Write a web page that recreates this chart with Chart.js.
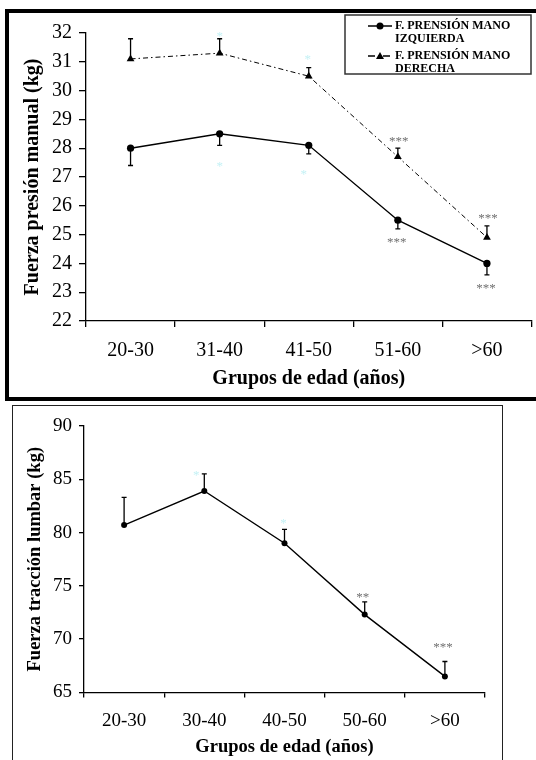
<!DOCTYPE html>
<html>
<head>
<meta charset="utf-8">
<script src="https://cdn.jsdelivr.net/npm/chart.js@4.4.1/dist/chart.umd.min.js"></script>
<style>
    html, body { margin: 0; padding: 0; background: #fff; width: 536px; height: 760px; overflow: hidden; position: relative; }
    #frameTop { position: absolute; left: 5px; top: 9px; width: 600px; height: 392px; box-sizing: border-box; border: 4px solid #000; }
    #frameBottom { position: absolute; left: 12px; top: 405px; width: 491px; height: 400px; box-sizing: border-box; border: 1.5px solid #222; }
    canvas { position: absolute; left: 0; }
    #gripChart { top: 0; }
    #lumbarChart { top: 400px; }
</style>
</head>
<body>
<div id="frameTop"></div>
<div id="frameBottom"></div>
<canvas id="gripChart" width="536" height="400"></canvas>
<canvas id="lumbarChart" width="536" height="360"></canvas>
<script>
const SERIF = '"Liberation Serif", "Times New Roman", serif';

// fuerza de prensión manual
const gripGroups = ['20-30', '31-40', '41-50', '51-60', '>60'];
const gripLeft = [28.0, 28.5, 28.1, 25.5, 24.0];
const gripLeftErr = [0.6, 0.4, 0.3, 0.3, 0.4];
const gripLeftSig = ['', '', '', '***', '***'];
const gripLeftFaint = ['', '*', '*', '', ''];
const gripRight = [31.1, 31.3, 30.5, 27.7, 24.9];
const gripRightErr = [0.7, 0.5, 0.3, 0.3, 0.4];
const gripRightSig = ['', '', '', '***', '***'];
const gripRightFaint = ['', '*', '*', '', ''];

// fuerza de tracción lumbar
const lumbarGroups = ['20-30', '30-40', '40-50', '50-60', '>60'];
const lumbarValues = [80.7, 83.9, 79.0, 72.3, 66.5];
const lumbarErr = [2.6, 1.6, 1.3, 1.2, 1.4];
const lumbarSig = ['', '', '', '**', '***'];
const lumbarFaint = ['', '*', '*', '', ''];


const pick = (v, i) => Array.isArray(v) ? v[i] : (v || 0);

// one-sided error bars + significance asterisks
const errorMarks = {
    id: 'errorMarks',
    afterDatasetsDraw(chart, args, opts) {
        const ctx = chart.ctx;
        const yScale = chart.scales.y;
        chart.data.datasets.forEach((ds, di) => {
            const meta = chart.getDatasetMeta(di);
            meta.data.forEach((pt, i) => {
                const end = yScale.getPixelForValue(ds.data[i] + ds.errDir * ds.err[i]);
                ctx.save();
                ctx.strokeStyle = '#000';
                ctx.lineWidth = 1.3;
                ctx.beginPath();
                ctx.moveTo(pt.x, pt.y);
                ctx.lineTo(pt.x, end);
                ctx.moveTo(pt.x - opts.cap, end);
                ctx.lineTo(pt.x + opts.cap, end);
                ctx.stroke();

                ctx.font = '13px ' + SERIF;
                ctx.textAlign = 'center';
                ctx.textBaseline = 'alphabetic';
                if (ds.sig[i]) {
                    ctx.fillStyle = '#707070';
                    const cy = end - ds.errDir * pick(ds.sigGap, i);
                    ctx.fillText(ds.sig[i], pt.x + pick(ds.sigShift, i), cy + 6.5);
                }
                if (ds.faint[i]) {
                    ctx.fillStyle = '#c4f1f5';
                    const cy = end - ds.errDir * pick(ds.faintGap, i);
                    ctx.fillText(ds.faint[i], pt.x + pick(ds.faintShift, i), cy + 6.5);
                }
                ctx.restore();
            });
        });
    }
};

// boxed legend, top right
const boxLegend = {
    id: 'boxLegend',
    afterDraw(chart, args, o) {
        if (!o.show) return;
        const ctx = chart.ctx;
        ctx.save();
        ctx.strokeStyle = '#333';
        ctx.lineWidth = 1.5;
        ctx.strokeRect(o.x, o.y, o.w, o.h);
        chart.data.datasets.forEach((ds, di) => {
            const rowY = o.firstRow + di * o.rowStep;
            ctx.strokeStyle = '#000';
            ctx.fillStyle = '#000';
            ctx.lineWidth = 1.5;
            ctx.setLineDash(ds.borderDash ? [7, 3, 2, 3] : []);
            ctx.beginPath();
            ctx.moveTo(o.sampleX, rowY);
            ctx.lineTo(o.sampleX + o.sampleW, rowY);
            ctx.stroke();
            ctx.setLineDash([]);
            const mx = o.sampleX + o.sampleW / 2;
            ctx.beginPath();
            if (ds.pointStyle === 'triangle') {
                ctx.moveTo(mx, rowY - 4);
                ctx.lineTo(mx + 4, rowY + 3);
                ctx.lineTo(mx - 4, rowY + 3);
                ctx.closePath();
            } else {
                ctx.arc(mx, rowY, 3.5, 0, Math.PI * 2);
            }
            ctx.fill();

            ctx.font = 'bold 12px ' + SERIF;
            ctx.textAlign = 'left';
            ctx.textBaseline = 'middle';
            ds.label.split('\n').forEach((line, li) => {
                ctx.fillText(line, o.textX, rowY + li * o.lineStep);
            });
        });
        ctx.restore();
    }
};

function axisOptions(cfg) {
    return {
        x: {
            offset: true,
            grid: { offset: true, drawOnChartArea: false, tickLength: cfg.xTick, color: '#000', lineWidth: 1.3 },
            border: { color: '#000', width: 1.3 },
            ticks: { color: '#000', font: { family: SERIF, size: cfg.tickSize }, padding: cfg.xPad, maxRotation: 0, autoSkip: false },
            title: { display: true, text: 'Grupos de edad (años)', color: '#000', font: { family: SERIF, size: cfg.titleSize, weight: 'bold' }, padding: 0 },
            afterFit(s) { s.height = cfg.xHeight; }
        },
        y: {
            min: cfg.min,
            max: cfg.max,
            grid: { drawOnChartArea: false, tickLength: cfg.yTick, color: '#000', lineWidth: 1.3 },
            border: { color: '#000', width: 1.3 },
            ticks: { stepSize: cfg.step, color: '#000', font: { family: SERIF, size: cfg.tickSize }, padding: 7 },
            title: { display: true, text: cfg.yTitle, color: '#000', font: { family: SERIF, size: cfg.titleSize, weight: 'bold' }, padding: { top: cfg.yTitlePad, bottom: 0 } },
            afterFit(s) { s.width = cfg.yWidth; }
        }
    };
}

new Chart(document.getElementById('gripChart'), {
    type: 'line',
    data: {
        labels: gripGroups,
        datasets: [{
            label: 'F. PRENSIÓN MANO\nIZQUIERDA',
            data: gripLeft,
            err: gripLeftErr, errDir: -1,
            sig: gripLeftSig, sigGap: 11, sigShift: -1,
            faint: gripLeftFaint, faintGap: 18, faintShift: [0, 0, -5, 0, 0],
            borderColor: '#000', backgroundColor: '#000', borderWidth: 1.4,
            pointStyle: 'circle', pointRadius: 3.6, pointBorderWidth: 0
        }, {
            label: 'F. PRENSIÓN MANO\nDERECHA',
            data: gripRight,
            err: gripRightErr, errDir: 1,
            sig: gripRightSig, sigGap: 10, sigShift: 1,
            faint: gripRightFaint, faintGap: [0, 5, 11, 0, 0], faintShift: [0, 0, -1, 0, 0],
            borderColor: '#000', backgroundColor: '#000', borderWidth: 1,
            borderDash: [5, 3, 1.5, 3],
            pointStyle: 'triangle', pointRadius: 4.5, pointBorderWidth: 0
        }]
    },
    options: {
        responsive: false,
        animation: false,
        devicePixelRatio: 1,
        layout: { padding: { left: 10, top: 33, right: 1, bottom: 9 } },
        plugins: {
            legend: { display: false },
            tooltip: { enabled: false },
            errorMarks: { cap: 2.5 },
            boxLegend: { show: true, x: 345, y: 15, w: 186, h: 59, firstRow: 26, rowStep: 30, lineStep: 13, sampleX: 368, sampleW: 24, textX: 395 }
        },
        scales: axisOptions({ min: 22, max: 32, step: 1, tickSize: 20, titleSize: 20, xTick: 6, yTick: 7, xPad: 12, xHeight: 70, yWidth: 76, yTitlePad: 11, yTitle: 'Fuerza presión manual (kg)' })
    },
    plugins: [errorMarks, boxLegend]
});

new Chart(document.getElementById('lumbarChart'), {
    type: 'line',
    data: {
        labels: lumbarGroups,
        datasets: [{
            label: 'Tracción lumbar',
            data: lumbarValues,
            err: lumbarErr, errDir: 1,
            sig: lumbarSig, sigGap: [0, 0, 0, 7, 17], sigShift: -2,
            faint: lumbarFaint, faintGap: [0, 1, 9, 0, 0], faintShift: [0, -8, -1, 0, 0],
            borderColor: '#000', backgroundColor: '#000', borderWidth: 1.4,
            pointStyle: 'circle', pointRadius: 3, pointBorderWidth: 0
        }]
    },
    options: {
        responsive: false,
        animation: false,
        devicePixelRatio: 1,
        layout: { padding: { left: 14, top: 26, right: 51, bottom: 1.6 } },
        plugins: {
            legend: { display: false },
            tooltip: { enabled: false },
            errorMarks: { cap: 2.5 },
            boxLegend: { show: false }
        },
        scales: axisOptions({ min: 65, max: 90, step: 5, tickSize: 19, titleSize: 18.5, xTick: 5, yTick: 5, xPad: 12, xHeight: 66, yWidth: 70, yTitlePad: 10, yTitle: 'Fuerza tracción lumbar (kg)' })
    },
    plugins: [errorMarks, boxLegend]
});
</script>
</body>
</html>
